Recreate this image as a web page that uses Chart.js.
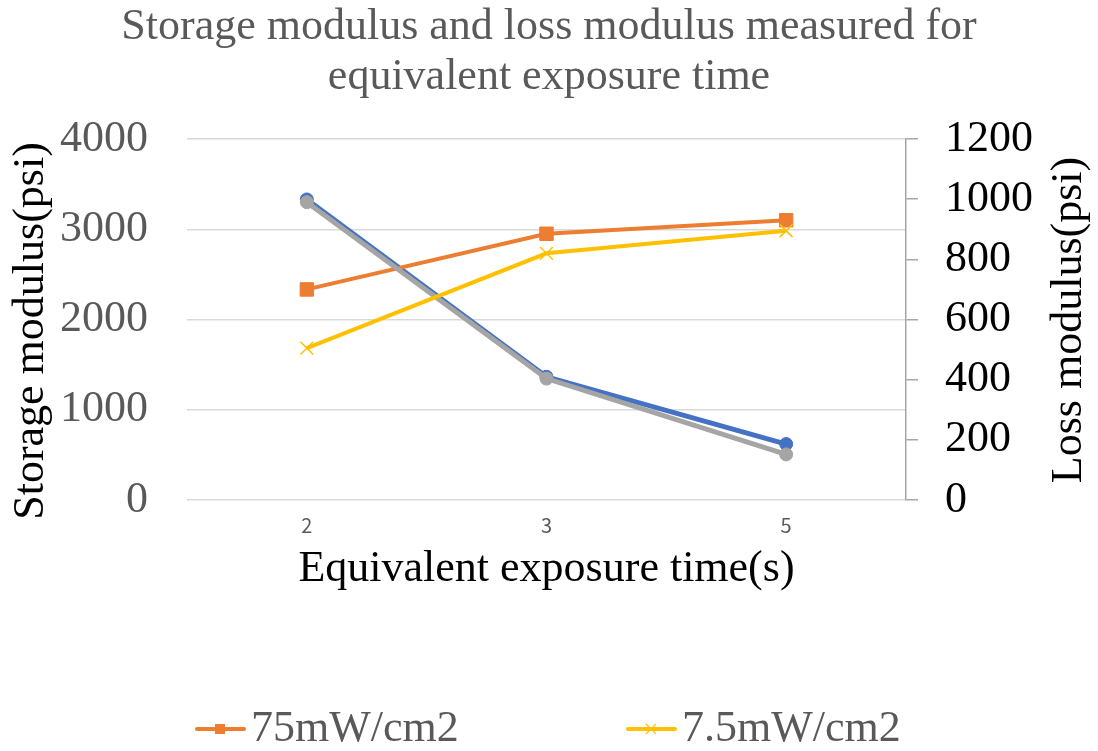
<!DOCTYPE html>
<html>
<head>
<meta charset="utf-8">
<title>Storage modulus and loss modulus</title>
<script src="https://cdn.jsdelivr.net/npm/chart.js@4/dist/chart.umd.min.js"></script>
<style>
  html, body { margin: 0; padding: 0; background: #fff; }
  #chart { display: block; }
</style>
</head>
<body>
<canvas id="chart" width="1098" height="751"></canvas>
<script>
// Data
const exposureTimes = ['2', '3', '5'];
const storage75 = [3330, 1365, 620];
const storage7_5 = [3300, 1345, 505];
const loss75 = [700, 885, 930];
const loss7_5 = [505, 820, 895];
const storageRange = [0, 4000, 1000];
const lossRange = [0, 1200, 200];

const serif = "'Times New Roman', 'Liberation Serif', serif";

// Legend: only the two loss series are shown
const legendEntries = [
    { text: '75mW/cm2', color: '#ED7D31', style: 'rect', x: 195 },
    { text: '7.5mW/cm2', color: '#FFC000', style: 'crossRot', x: 626 }
];

function drawVerticalText(ctx, text, x, y) {
    ctx.save();
    ctx.translate(x, y);
    ctx.rotate(-Math.PI / 2);
    ctx.font = '44px ' + serif;
    ctx.fillStyle = '#000';
    ctx.textAlign = 'center';
    ctx.textBaseline = 'middle';
    ctx.fillText(text, 0, 0);
    ctx.restore();
}

const extrasPlugin = {
    id: 'extras',
    afterDraw(chart) {
        const ctx = chart.ctx;

        // Axis titles, both read bottom to top
        drawVerticalText(ctx, 'Storage modulus(psi)', 31, 331);
        drawVerticalText(ctx, 'Loss modulus(psi)', 1069, 320);

        // Legend entries
        const ly = 729;
        legendEntries.forEach(item => {
            ctx.save();
            ctx.strokeStyle = item.color;
            ctx.lineWidth = 4;
            ctx.lineCap = 'round';
            ctx.beginPath();
            ctx.moveTo(item.x + 2, ly);
            ctx.lineTo(item.x + 49, ly);
            ctx.stroke();
            const cx = item.x + 25;
            if (item.style === 'rect') {
                ctx.fillStyle = item.color;
                ctx.fillRect(cx - 5, ly - 5, 10, 10);
            } else {
                ctx.lineWidth = 1.2;
                ctx.lineCap = 'butt';
                ctx.beginPath();
                ctx.moveTo(cx - 5, ly - 5);
                ctx.lineTo(cx + 5, ly + 5);
                ctx.moveTo(cx - 5, ly + 5);
                ctx.lineTo(cx + 5, ly - 5);
                ctx.stroke();
            }
            ctx.font = '44px ' + serif;
            ctx.fillStyle = '#595959';
            ctx.textAlign = 'left';
            ctx.textBaseline = 'middle';
            ctx.fillText(item.text, item.x + 56, ly);
            ctx.restore();
        });
    }
};

const plainTick = v => String(v);

const ctx = document.getElementById('chart').getContext('2d');
new Chart(ctx, {
    type: 'line',
    data: {
        labels: exposureTimes,
        datasets: [{
            label: 'Storage 75mW/cm2',
            data: storage75,
            yAxisID: 'y',
            borderColor: '#4472C4',
            backgroundColor: '#4472C4',
            borderWidth: 5,
            pointStyle: 'circle',
            pointRadius: 6.5,
            pointBorderWidth: 1,
            order: 4
        }, {
            label: '75mW/cm2',
            data: loss75,
            yAxisID: 'y1',
            borderColor: '#ED7D31',
            backgroundColor: '#ED7D31',
            borderWidth: 4,
            pointStyle: 'rect',
            pointRadius: 9.5,
            pointBorderWidth: 1,
            order: 3
        }, {
            label: 'Storage 7.5mW/cm2',
            data: storage7_5,
            yAxisID: 'y',
            borderColor: '#A5A5A5',
            backgroundColor: '#A5A5A5',
            borderWidth: 5,
            pointStyle: 'circle',
            pointRadius: 6.5,
            pointBorderWidth: 1,
            order: 2
        }, {
            label: '7.5mW/cm2',
            data: loss7_5,
            yAxisID: 'y1',
            borderColor: '#FFC000',
            backgroundColor: '#FFC000',
            borderWidth: 4,
            pointStyle: 'crossRot',
            pointRadius: 9,
            pointBorderWidth: 1.5,
            order: 1
        }]
    },
    options: {
        responsive: false,
        animation: false,
        layout: {
            padding: { left: 0, right: 0, top: 0, bottom: 141 }
        },
        elements: {
            line: { tension: 0, fill: false }
        },
        plugins: {
            legend: { display: false },
            tooltip: { enabled: false },
            title: {
                display: true,
                text: ['Storage modulus and loss modulus measured for', 'equivalent exposure time'],
                color: '#595959',
                font: { family: serif, size: 44, weight: 'normal', lineHeight: 50 / 44 },
                padding: { top: 2, bottom: 37 }
            }
        },
        scales: {
            x: {
                offset: true,
                grid: { display: false },
                border: { display: false },
                ticks: {
                    color: '#595959',
                    font: { family: "'Noto Sans CJK JP', 'Noto Sans', sans-serif", size: 20 },
                    padding: 5
                },
                title: {
                    display: true,
                    text: 'Equivalent exposure time(s)',
                    color: '#000',
                    font: { family: serif, size: 44 },
                    padding: { top: 0, bottom: 14 }
                },
                afterFit: s => { s.height = 110; }
            },
            y: {
                position: 'left',
                min: storageRange[0],
                max: storageRange[1],
                ticks: {
                    stepSize: storageRange[2],
                    callback: plainTick,
                    color: '#595959',
                    font: { family: serif, size: 44 },
                    padding: 39
                },
                grid: { color: '#d9d9d9', lineWidth: 1.5, drawTicks: false },
                border: { display: false },
                afterFit: s => { s.width = 187; }
            },
            y1: {
                position: 'right',
                min: lossRange[0],
                max: lossRange[1],
                ticks: {
                    stepSize: lossRange[2],
                    callback: plainTick,
                    color: '#000',
                    font: { family: serif, size: 44 },
                    padding: 27
                },
                grid: { drawOnChartArea: false, color: '#a6a6a6', tickLength: 12, lineWidth: 1.5 },
                border: { display: true, color: '#a6a6a6', width: 1.5 },
                afterFit: s => { s.width = 192; }
            }
        }
    },
    plugins: [extrasPlugin]
});
</script>
</body>
</html>
